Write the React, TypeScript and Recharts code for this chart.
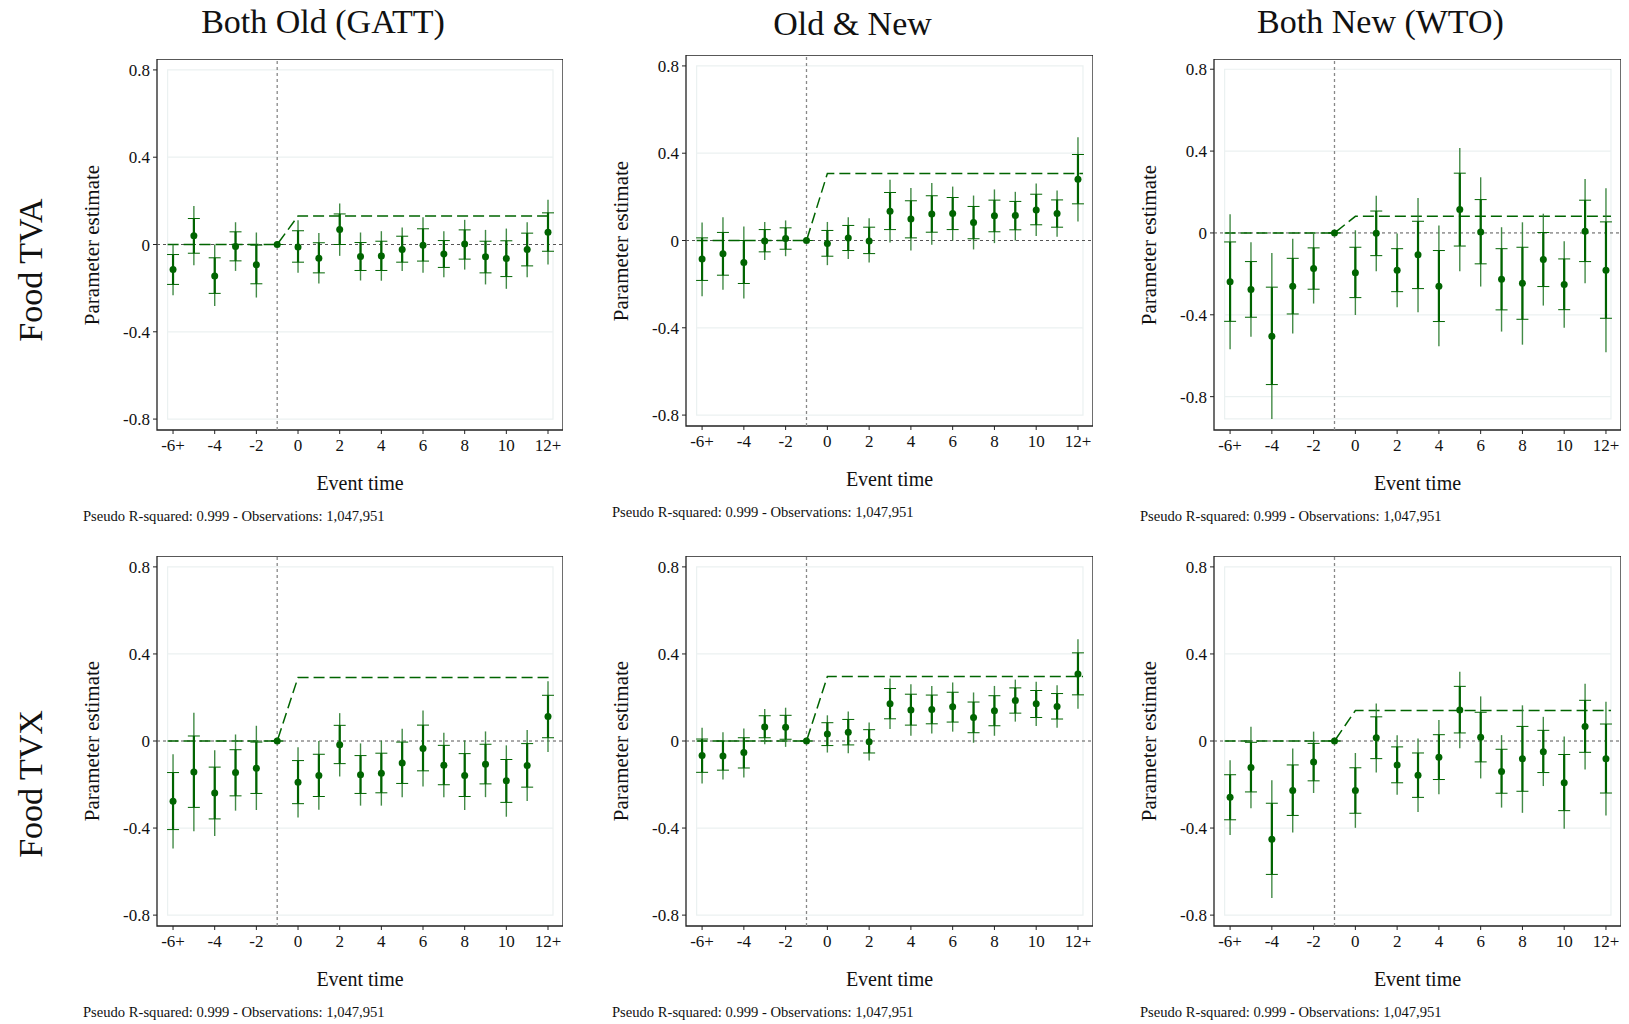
import React from 'react';
import {
  ComposedChart, Scatter, Line, XAxis, YAxis, ReferenceLine, ReferenceArea, ErrorBar
} from 'recharts';

const eventTime = [-6, -5, -4, -3, -2, -1, 0, 1, 2, 3, 4, 5, 6, 7, 8, 9, 10, 11, 12];
const xTicks = [-6, -4, -2, 0, 2, 4, 6, 8, 10, 12];
const yTicks = [-0.8, -0.4, 0, 0.4, 0.8];

// Both Old (GATT) - Food TVA
const oldTvaEst = [-0.115, 0.040, -0.144, -0.009, -0.093, 0, -0.011, -0.063, 0.069, -0.055, -0.053, -0.023, -0.003, -0.043, 0.002, -0.056, -0.064, -0.023, 0.056];
const oldTvaHi90 = [-0.046, 0.119, -0.061, 0.058, -0.003, 0, 0.063, 0.008, 0.140, 0.009, 0.015, 0.038, 0.072, 0.018, 0.067, 0.015, 0.017, 0.052, 0.145];
const oldTvaLo90 = [-0.183, -0.040, -0.224, -0.075, -0.180, 0, -0.081, -0.130, 0.000, -0.119, -0.119, -0.081, -0.076, -0.105, -0.067, -0.130, -0.147, -0.098, -0.031];
const oldTvaHi95 = [0.000, 0.176, 0.000, 0.102, 0.055, 0, 0.111, 0.053, 0.188, 0.055, 0.061, 0.078, 0.125, 0.061, 0.113, 0.067, 0.073, 0.102, 0.205];
const oldTvaLo95 = [-0.232, -0.095, -0.282, -0.121, -0.243, 0, -0.130, -0.179, -0.052, -0.165, -0.166, -0.122, -0.130, -0.150, -0.115, -0.183, -0.203, -0.150, -0.092];
const oldTvaEffect = 0.131;

// Old & New - Food TVA
const mixTvaEst = [-0.085, -0.061, -0.101, -0.002, 0.009, 0, -0.014, 0.011, -0.002, 0.134, 0.098, 0.122, 0.124, 0.082, 0.113, 0.115, 0.140, 0.124, 0.281];
const mixTvaHi90 = [0.012, 0.037, 0.000, 0.050, 0.058, 0, 0.046, 0.069, 0.061, 0.220, 0.182, 0.205, 0.197, 0.156, 0.185, 0.179, 0.212, 0.186, 0.394];
const mixTvaLo90 = [-0.183, -0.159, -0.197, -0.052, -0.040, 0, -0.072, -0.046, -0.060, 0.050, 0.012, 0.038, 0.050, 0.008, 0.040, 0.049, 0.072, 0.061, 0.168];
const mixTvaHi95 = [0.082, 0.107, 0.064, 0.085, 0.092, 0, 0.085, 0.107, 0.102, 0.278, 0.241, 0.263, 0.247, 0.206, 0.234, 0.223, 0.261, 0.229, 0.473];
const mixTvaLo95 = [-0.255, -0.226, -0.266, -0.089, -0.072, 0, -0.113, -0.085, -0.101, -0.009, -0.046, -0.020, 0.000, -0.041, -0.012, 0.000, 0.021, 0.017, 0.087];
const mixTvaEffect = 0.307;

// Both New (WTO) - Food TVA
const newTvaEst = [-0.238, -0.277, -0.505, -0.261, -0.174, 0, -0.194, -0.002, -0.182, -0.107, -0.261, 0.114, 0.005, -0.226, -0.246, -0.130, -0.252, 0.008, -0.182];
const newTvaHi90 = [-0.044, -0.140, -0.265, -0.124, -0.073, 0, -0.070, 0.107, -0.077, 0.057, -0.086, 0.292, 0.163, -0.077, -0.070, 0.002, -0.127, 0.160, 0.054];
const newTvaLo90 = [-0.432, -0.412, -0.741, -0.396, -0.275, 0, -0.316, -0.111, -0.287, -0.272, -0.433, -0.064, -0.151, -0.376, -0.422, -0.262, -0.375, -0.140, -0.417];
const newTvaHi95 = [0.091, -0.046, -0.098, -0.029, -0.005, 0, 0.013, 0.182, -0.003, 0.171, 0.036, 0.415, 0.272, 0.028, 0.052, 0.094, -0.041, 0.264, 0.218];
const newTvaLo95 = [-0.568, -0.507, -0.909, -0.492, -0.345, 0, -0.401, -0.187, -0.363, -0.388, -0.554, -0.187, -0.262, -0.482, -0.546, -0.355, -0.463, -0.246, -0.583];
const newTvaEffect = 0.081;

// Both Old (GATT) - Food TVX
const oldTvxEst = [-0.277, -0.143, -0.239, -0.145, -0.125, 0, -0.189, -0.159, -0.017, -0.155, -0.148, -0.101, -0.034, -0.111, -0.159, -0.107, -0.183, -0.113, 0.113];
const oldTvxHi90 = [-0.145, 0.023, -0.120, -0.040, -0.005, 0, -0.090, -0.061, 0.072, -0.067, -0.056, -0.005, 0.073, -0.020, -0.058, -0.015, -0.085, -0.012, 0.210];
const oldTvxLo90 = [-0.407, -0.305, -0.358, -0.252, -0.241, 0, -0.288, -0.255, -0.104, -0.241, -0.238, -0.195, -0.137, -0.201, -0.255, -0.197, -0.282, -0.212, 0.015];
const oldTvxHi95 = [-0.061, 0.130, -0.043, 0.030, 0.070, 0, -0.029, 0.000, 0.128, -0.011, 0.002, 0.056, 0.140, 0.038, 0.003, 0.044, -0.020, 0.050, 0.274];
const oldTvxLo95 = [-0.494, -0.415, -0.436, -0.320, -0.317, 0, -0.351, -0.316, -0.163, -0.297, -0.297, -0.258, -0.209, -0.259, -0.317, -0.258, -0.348, -0.276, -0.050];
const oldTvxEffect = 0.292;

// Old & New - Food TVX
const mixTvxEst = [-0.067, -0.069, -0.053, 0.064, 0.063, 0, 0.032, 0.040, -0.003, 0.171, 0.142, 0.145, 0.157, 0.108, 0.139, 0.186, 0.171, 0.159, 0.308];
const mixTvxHi90 = [0.009, 0.000, 0.015, 0.116, 0.118, 0, 0.084, 0.099, 0.052, 0.241, 0.215, 0.211, 0.224, 0.179, 0.208, 0.244, 0.232, 0.218, 0.405];
const mixTvxLo90 = [-0.144, -0.134, -0.124, 0.015, 0.008, 0, -0.021, -0.018, -0.055, 0.102, 0.073, 0.079, 0.087, 0.038, 0.070, 0.128, 0.108, 0.101, 0.212];
const mixTvxHi95 = [0.061, 0.040, 0.058, 0.147, 0.153, 0, 0.118, 0.136, 0.085, 0.287, 0.261, 0.253, 0.269, 0.223, 0.253, 0.282, 0.272, 0.256, 0.467];
const mixTvxLo95 = [-0.195, -0.177, -0.168, -0.015, -0.027, 0, -0.053, -0.056, -0.090, 0.055, 0.024, 0.035, 0.043, -0.008, 0.024, 0.089, 0.069, 0.061, 0.148];
const mixTvxEffect = 0.296;

// Both New (WTO) - Food TVX
const newTvxEst = [-0.259, -0.122, -0.451, -0.227, -0.097, 0, -0.227, 0.015, -0.110, -0.157, -0.075, 0.143, 0.017, -0.140, -0.082, -0.049, -0.192, 0.067, -0.082];
const newTvxHi90 = [-0.155, -0.006, -0.286, -0.110, -0.011, 0, -0.123, 0.111, -0.027, -0.055, 0.029, 0.251, 0.132, -0.038, 0.067, 0.049, -0.062, 0.187, 0.078];
const newTvxLo90 = [-0.362, -0.234, -0.613, -0.342, -0.183, 0, -0.332, -0.081, -0.192, -0.259, -0.177, 0.037, -0.096, -0.240, -0.231, -0.145, -0.320, -0.052, -0.239];
const newTvxHi95 = [-0.088, 0.065, -0.180, -0.035, 0.043, 0, -0.055, 0.172, 0.026, 0.012, 0.096, 0.318, 0.205, 0.027, 0.164, 0.111, 0.021, 0.263, 0.180];
const newTvxLo95 = [-0.432, -0.309, -0.721, -0.420, -0.239, 0, -0.399, -0.145, -0.247, -0.326, -0.245, -0.033, -0.172, -0.306, -0.330, -0.207, -0.403, -0.131, -0.342];
const newTvxEffect = 0.140;

const columnTitles = ['Both Old (GATT)', 'Old & New', 'Both New (WTO)'];
const rowTitles = ['Food TVA', 'Food TVX'];
const caption = 'Pseudo R-squared: 0.999 - Observations: 1,047,951';

const FONT = '"Liberation Serif", "Times New Roman", serif';
const GREEN = '#006400';
const X_DOMAIN: [number, number] = [-6.77, 12.72];
const INNER_X: [number, number] = [-6.26, 12.24];
const YW = 60;
const XH = 30;

type Series = {
  est: number[]; lo90: number[]; hi90: number[]; lo95: number[]; hi95: number[];
  effect: number; yMin: number; innerBottom: number;
  left: number; top: number; right: number; bottom: number; titleY: number;
};

const panels: Series[] = [
  { est: oldTvaEst, lo90: oldTvaLo90, hi90: oldTvaHi90, lo95: oldTvaLo95, hi95: oldTvaHi95, effect: oldTvaEffect, yMin: -0.85, innerBottom: -0.8, left: 157, top: 59, right: 563, bottom: 430, titleY: 22 },
  { est: mixTvaEst, lo90: mixTvaLo90, hi90: mixTvaHi90, lo95: mixTvaLo95, hi95: mixTvaHi95, effect: mixTvaEffect, yMin: -0.85, innerBottom: -0.8, left: 686, top: 55, right: 1093, bottom: 426, titleY: 24 },
  { est: newTvaEst, lo90: newTvaLo90, hi90: newTvaHi90, lo95: newTvaLo95, hi95: newTvaHi95, effect: newTvaEffect, yMin: -0.963, innerBottom: -0.909, left: 1214, top: 59, right: 1621, bottom: 430, titleY: 22 },
  { est: oldTvxEst, lo90: oldTvxLo90, hi90: oldTvxHi90, lo95: oldTvxLo95, hi95: oldTvxHi95, effect: oldTvxEffect, yMin: -0.85, innerBottom: -0.8, left: 157, top: 556, right: 563, bottom: 926, titleY: 0 },
  { est: mixTvxEst, lo90: mixTvxLo90, hi90: mixTvxHi90, lo95: mixTvxLo95, hi95: mixTvxHi95, effect: mixTvxEffect, yMin: -0.85, innerBottom: -0.8, left: 686, top: 556, right: 1093, bottom: 926, titleY: 0 },
  { est: newTvxEst, lo90: newTvxLo90, hi90: newTvxHi90, lo95: newTvxLo95, hi95: newTvxHi95, effect: newTvxEffect, yMin: -0.85, innerBottom: -0.8, left: 1214, top: 556, right: 1621, bottom: 926, titleY: 0 },
];

const fmtX = (v: number) => (v === -6 ? '-6+' : v === 12 ? '12+' : String(v));
const fmtY = (v: number) => (v === 0 ? '0' : v.toFixed(1));

const Dot = (props: any) => <circle cx={props.cx} cy={props.cy} r={3.5} fill={GREEN} />;

const Panel = ({ s }: { s: Series }) => {
  const rows = eventTime.map((t, i) => ({
    t,
    est: s.est[i],
    e95: [s.est[i] - s.lo95[i], s.hi95[i] - s.est[i]],
    e90: [s.est[i] - s.lo90[i], s.hi90[i] - s.est[i]],
  }));
  const path = [
    { t: INNER_X[0], eff: 0 },
    { t: -1, eff: 0 },
    { t: 0, eff: s.effect },
    { t: INNER_X[1], eff: s.effect },
  ];
  const yMax = 0.85;
  const w = s.right - s.left + YW;
  const h = s.bottom - s.top + XH;
  const tickStyle = { fontSize: 17, fill: '#111', fontFamily: FONT };
  return (
    <div style={{ position: 'absolute', left: s.left - YW, top: s.top }}>
      <ComposedChart width={w} height={h} margin={{ top: 0, right: 0, bottom: 0, left: 0 }}>
        <XAxis type="number" dataKey="t" domain={X_DOMAIN} allowDataOverflow ticks={xTicks} interval={0}
          tickFormatter={fmtX} axisLine={false} tickSize={4} tickMargin={5} height={XH}
          tickLine={{ stroke: '#222' }} tick={tickStyle} />
        <YAxis type="number" dataKey="est" domain={[s.yMin, yMax]} allowDataOverflow ticks={yTicks} interval={0}
          tickFormatter={fmtY} axisLine={false} tickSize={4} tickMargin={3} width={YW}
          tickLine={{ stroke: '#222' }} tick={tickStyle} />
        <ReferenceArea x1={INNER_X[0]} x2={INNER_X[1]} y1={s.innerBottom} y2={0.8}
          fill="none" stroke="#ebf1f1" strokeWidth={1.2} ifOverflow="visible" />
        <ReferenceLine segment={[{ x: INNER_X[0], y: 0.4 }, { x: INNER_X[1], y: 0.4 }]} stroke="#ebf1f1" strokeWidth={1.2} />
        <ReferenceLine segment={[{ x: INNER_X[0], y: -0.4 }, { x: INNER_X[1], y: -0.4 }]} stroke="#ebf1f1" strokeWidth={1.2} />
        {s.innerBottom < -0.8 && (
          <ReferenceLine segment={[{ x: INNER_X[0], y: -0.8 }, { x: INNER_X[1], y: -0.8 }]} stroke="#ebf1f1" strokeWidth={1.2} />
        )}
        <ReferenceLine y={0} stroke="#555" strokeDasharray="3 3" strokeWidth={1} />
        <ReferenceLine x={-1} stroke="#888" strokeDasharray="3 3" strokeWidth={1.3} />
        <Line data={path} dataKey="eff" type="linear" stroke={GREEN} strokeWidth={1.5}
          strokeDasharray="11 5" dot={false} activeDot={false} isAnimationActive={false} />
        <Scatter data={rows} dataKey="est" shape={Dot} isAnimationActive={false}>
          <ErrorBar dataKey="e95" direction="y" width={0} stroke="#2e7d32" strokeOpacity={0.9} strokeWidth={1.4} />
          <ErrorBar dataKey="e90" direction="y" width={0} stroke={GREEN} strokeWidth={2.2} />
          <ErrorBar dataKey="e90" direction="y" width={6} stroke={GREEN} strokeWidth={1} />
        </Scatter>
        <ReferenceArea x1={X_DOMAIN[0]} x2={X_DOMAIN[1]} y1={s.yMin} y2={yMax}
          fill="none" stroke="#222" strokeWidth={1.3} ifOverflow="visible" />
      </ComposedChart>
    </div>
  );
};

const textAt = (x: number, y: number, size: number, rotate = false): React.CSSProperties => ({
  position: 'absolute', left: x, top: y, fontFamily: FONT, fontSize: size, color: '#111',
  lineHeight: 1, whiteSpace: 'nowrap',
  transform: `translate(-50%, -50%)${rotate ? ' rotate(-90deg)' : ''}`,
});

export default function App() {
  return (
    <div style={{ position: 'absolute', left: 0, top: 0, width: 1629, height: 1024, background: '#fff', overflow: 'hidden' }}>
      {panels.map((s, i) => <Panel key={i} s={s} />)}
      {panels.map((s, i) => (
        <React.Fragment key={`t${i}`}>
          <div style={textAt(s.left - 65, (s.top + s.bottom) / 2, 21, true)}>Parameter estimate</div>
          <div style={textAt((s.left + s.right) / 2, s.bottom + 53, 20)}>Event time</div>
          <div style={{ position: 'absolute', left: s.left - 74, top: s.bottom + 86 - 7, fontFamily: FONT, fontSize: 14.6, lineHeight: 1, whiteSpace: 'nowrap', color: '#111' }}>{caption}</div>
        </React.Fragment>
      ))}
      {columnTitles.map((t, i) => (
        <div key={t} style={textAt((panels[i].left - 74 + panels[i].right) / 2, panels[i].titleY, 34)}>{t}</div>
      ))}
      <div style={textAt(31, 270, 34, true)}>{rowTitles[0]}</div>
      <div style={textAt(31, 784, 34, true)}>{rowTitles[1]}</div>
    </div>
  );
}
